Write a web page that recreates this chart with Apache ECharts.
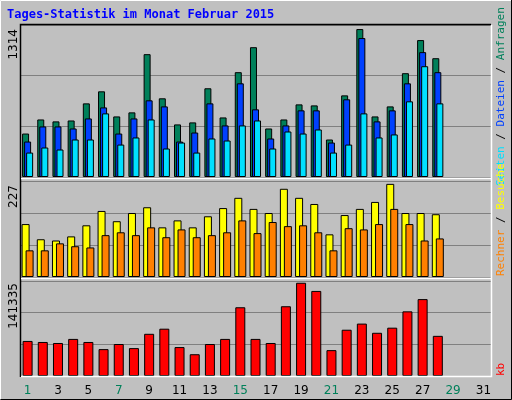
<!DOCTYPE html>
<html><head><meta charset="utf-8">
<script src="https://cdn.jsdelivr.net/npm/echarts@6/dist/echarts.min.js"></script>
<style>html,body{margin:0;padding:0;background:#c0c0c0}#c{width:512px;height:400px}</style>
</head><body><div id="c"></div>
<script>
const days = Array.from({length:31},(_,i)=>String(i+1));
const weekendDays = ['1','7','8','14','15','21','22','28','29'];
const anfragen = [386,511,494,502,654,761,538,574,1091,699,467,485,788,529,931,1153,431,511,645,636,333,725,1314,538,627,922,1216,1055];
const dateien = [315,449,449,431,520,618,386,520,681,627,315,395,654,458,832,601,342,458,592,592,306,690,1234,494,592,832,1109,931];
const seiten = [217,262,244,333,333,565,288,351,511,253,306,217,342,324,458,502,253,404,386,422,217,288,565,351,378,672,984,654];
const besuche = [129,92,89,99,126,161,136,156,170,121,138,121,148,168,193,166,156,215,193,178,104,151,166,183,227,156,156,153];
const rechner = [65,65,82,75,72,102,109,102,121,97,116,97,102,109,138,107,134,124,126,109,65,119,116,129,166,129,89,94];
const kb = [53127,51580,50033,56222,51580,40748,48485,42296,63959,71696,43843,33011,48485,56222,104192,56222,50033,105739,141335,128950,39201,70148,79432,65506,73243,98002,116571,60864];
const title = 'Tages-Statistik im Monat Februar 2015';
const maxLabels = ['1314','227','141335'];

const chart = echarts.init(document.getElementById('c'));
const L=20, R=21;
const grids = [{top:25,height:152},{top:181,height:96},{top:281,height:95}];
const yMax=[1350,234,144000], yInt=[450,78,48000];
const bs = {borderColor:'#000',borderWidth:1};
function xa(i){return {type:'category',gridIndex:i,data:days,boundaryGap:true,
  axisLine:{show:false},axisTick:{show:false},
  axisLabel:{show:i===2,margin:9,fontFamily:'DejaVu Sans',fontSize:12,
    color:(v)=>weekendDays.includes(v)?'#00805a':'#000'}};}
function ya(i){return {type:'value',gridIndex:i,min:0,max:yMax[i],interval:yInt[i],
  axisLabel:{show:false},axisLine:{show:false},axisTick:{show:false},
  splitLine:{lineStyle:{color:'#808080',width:1}}};}
function bar(i,data,color,w,gap,z){return {type:'bar',xAxisIndex:i,yAxisIndex:i,data,barWidth:w,barGap:gap,
  itemStyle:Object.assign({color},bs),z,animation:false,silent:true};}
const rot = Math.PI/2;
function vtext(x,y,rich,text,align){return {type:'text',x,y,rotation:rot,z:10,
  style:{text,rich,align:align,verticalAlign:'middle',font:'11px "DejaVu Sans Mono"'}};}
chart.setOption({
  backgroundColor:'#c0c0c0',animation:false,
  grid:grids.map(g=>({left:L,right:R,top:g.top,height:g.height})),
  xAxis:[xa(0),xa(1),xa(2)], yAxis:[ya(0),ya(1),ya(2)],
  series:[
    bar(0,anfragen,'#00805a',7,'-71%',3),
    bar(0,dateien,'#0040ff',7,'-71%',4),
    bar(0,seiten,'#00e0ff',7,'-71%',5),
    bar(1,besuche,'#ffff00',8,'-50%',3),
    bar(1,rechner,'#ff8000',8,'-50%',4),
    bar(2,kb,'#ff0000',10,'-100%',3)
  ],
  graphic:[
    {type:'polyline',shape:{points:[[0.5,399],[0.5,0.5],[511,0.5]]},style:{stroke:'#fff',fill:null,lineWidth:1},z:20},
    {type:'polyline',shape:{points:[[0.5,399.5],[511.5,399.5],[511.5,0]]},style:{stroke:'#000',fill:null,lineWidth:1},z:20},
    {type:'polyline',shape:{points:[[20.5,377],[20.5,24.5],[491,24.5]]},style:{stroke:'#000',fill:null,lineWidth:1.5},z:20},
    {type:'polyline',shape:{points:[[21,376.5],[491.5,376.5],[491.5,25]]},style:{stroke:'#fff',fill:null,lineWidth:1.5},z:20},
    {type:'line',shape:{x1:21,y1:178.5,x2:491,y2:178.5},style:{stroke:'#fff',lineWidth:1.5},z:20},
    {type:'line',shape:{x1:21,y1:278.5,x2:491,y2:278.5},style:{stroke:'#fff',lineWidth:1.5},z:20},
    {type:'text',x:7,y:15,z:10,style:{text:title,fill:'#0000ff',font:'bold 12px "DejaVu Sans Mono"',verticalAlign:'middle'}},
    {type:'text',x:14,y:29,rotation:rot,z:10,style:{text:maxLabels[0],fill:'#000',font:'12px "DejaVu Sans"',align:'right',verticalAlign:'middle'}},
    {type:'text',x:14,y:185,rotation:rot,z:10,style:{text:maxLabels[1],fill:'#000',font:'12px "DejaVu Sans"',align:'right',verticalAlign:'middle'}},
    {type:'text',x:14,y:283,rotation:rot,z:10,style:{text:maxLabels[2],fill:'#000',font:'12px "DejaVu Sans"',align:'right',verticalAlign:'middle'}},
    {type:'text',x:501,y:186,rotation:rot,z:10,style:{align:'left',verticalAlign:'middle',font:'11px "DejaVu Sans Mono"',
      text:'{a|Seiten}{d| / }{b|Dateien}{d| / }{c|Anfragen}',
      rich:{a:{fill:'#00e0ff',font:'11px "DejaVu Sans Mono"'},b:{fill:'#0040ff',font:'11px "DejaVu Sans Mono"'},c:{fill:'#00805a',font:'11px "DejaVu Sans Mono"'},d:{fill:'#000',font:'11px "DejaVu Sans Mono"'}}}},
    {type:'text',x:501,y:276,rotation:rot,z:10,style:{align:'left',verticalAlign:'middle',font:'11px "DejaVu Sans Mono"',
      text:'{a|Rechner}{d| / }{b|Besuche}',
      rich:{a:{fill:'#ff8000',font:'11px "DejaVu Sans Mono"'},b:{fill:'#ffff00',font:'11px "DejaVu Sans Mono"'},d:{fill:'#000',font:'11px "DejaVu Sans Mono"'}}}},
    {type:'text',x:501,y:376,rotation:rot,z:10,style:{text:'kb',fill:'#ff0000',font:'11px "DejaVu Sans Mono"',align:'left',verticalAlign:'middle'}}
  ]
});
</script></body></html>
